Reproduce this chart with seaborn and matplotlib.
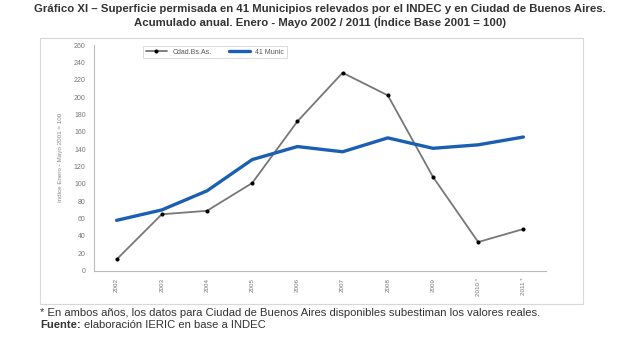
import matplotlib
matplotlib.use("Agg")
import matplotlib.pyplot as plt
from matplotlib.patches import Rectangle
import seaborn as sns
import pandas as pd
import numpy as np

years = ["2002", "2003", "2004", "2005", "2006", "2007", "2008", "2009", "2010 *", "2011 *"]
cdad = [13, 65, 69, 101, 172, 228, 202, 108, 33, 48]
munic = [58, 70, 92, 128, 143, 137, 153, 141, 145, 154]
series_names = ["Cdad.Bs.As.", "41 Munic"]

sns.set_theme(style="white")
plt.rcParams['font.family'] = ['Liberation Sans', 'DejaVu Sans']

fig = plt.figure(figsize=(6.4, 3.38), dpi=100)
ax = fig.add_axes([94/640, 1-270.7/338, (546-94)/640, (270.7-45)/338])

x = np.arange(len(years))
df = pd.DataFrame({"x": np.concatenate([x, x]),
                   "v": cdad + munic,
                   "s": [series_names[0]]*len(x) + [series_names[1]]*len(x)})

sns.lineplot(data=df[df.s == series_names[0]], x="x", y="v", ax=ax, color="#777777",
             lw=1.3, marker="o", markersize=2.2, markerfacecolor="black",
             markeredgecolor="black", label=series_names[0])
sns.lineplot(data=df[df.s == series_names[1]], x="x", y="v", ax=ax, color="#1a5fb4",
             lw=2.4, label=series_names[1])

ax.set_xlim(-0.5, len(years) - 0.5)
ax.set_ylim(0, 260)
ax.set_yticks(range(0, 261, 20))
ax.set_xticks(x)
ax.set_xticklabels(years, rotation=90, fontsize=4.5, color="#777777")
ax.tick_params(axis="y", labelsize=5, colors="#777777", length=0, pad=6)
ax.tick_params(axis="x", length=0, pad=5)
ax.set_xticks(np.arange(-0.5, len(years), 1), minor=True)
ax.tick_params(axis="x", which="minor", length=3, color="#bbbbbb", direction="out")
ax.set_xlabel("")
ax.set_ylabel("Indice Enero - Mayo 2001 = 100", fontsize=4.5, color="#888888", labelpad=8)
for side in ["top", "right"]:
    ax.spines[side].set_visible(False)
for side in ["left", "bottom"]:
    ax.spines[side].set_color("#bbbbbb")
    ax.spines[side].set_linewidth(0.8)

leg = ax.legend(loc="center", bbox_to_anchor=((215-94)/452, (270.7-52)/225.7), ncol=2,
                fontsize=5, frameon=True, fancybox=False, handlelength=3,
                columnspacing=2.5, borderpad=0.4)
leg.get_frame().set_edgecolor("#cccccc")
leg.get_frame().set_linewidth(0.6)
for t in leg.get_texts():
    t.set_color("#555555")

fig.patches.append(Rectangle((40/640, 1-304/338), (583-40)/640, (304-38)/338,
                             transform=fig.transFigure, fill=False,
                             edgecolor="#d8d8d8", lw=0.8))

fig.text(0.5, 1-9/338, "Gráfico XI – Superficie permisada en 41 Municipios relevados por el INDEC y en Ciudad de Buenos Aires.",
         ha="center", va="center", fontsize=8.2, fontweight="bold", color="#333333")
fig.text(0.5, 1-22/338, "Acumulado anual. Enero - Mayo 2002 / 2011 (Índice Base 2001 = 100)",
         ha="center", va="center", fontsize=8.2, fontweight="bold", color="#333333")
fig.text(40/640, 1-313/338, "* En ambos años, los datos para Ciudad de Buenos Aires disponibles subestiman los valores reales.",
         ha="left", va="center", fontsize=8.1, color="#333333")
fuente = fig.text(40/640, 1-325/338, "Fuente:", ha="left", va="center", fontsize=8.1,
                  fontweight="bold", color="#333333")
fig.canvas.draw()
bb = fuente.get_window_extent().transformed(fig.transFigure.inverted())
fig.text(bb.x1 + 3/640, 1-325/338, "elaboración IERIC en base a INDEC", ha="left", va="center",
         fontsize=8.1, color="#333333")

fig.savefig("out.png", dpi=100)
